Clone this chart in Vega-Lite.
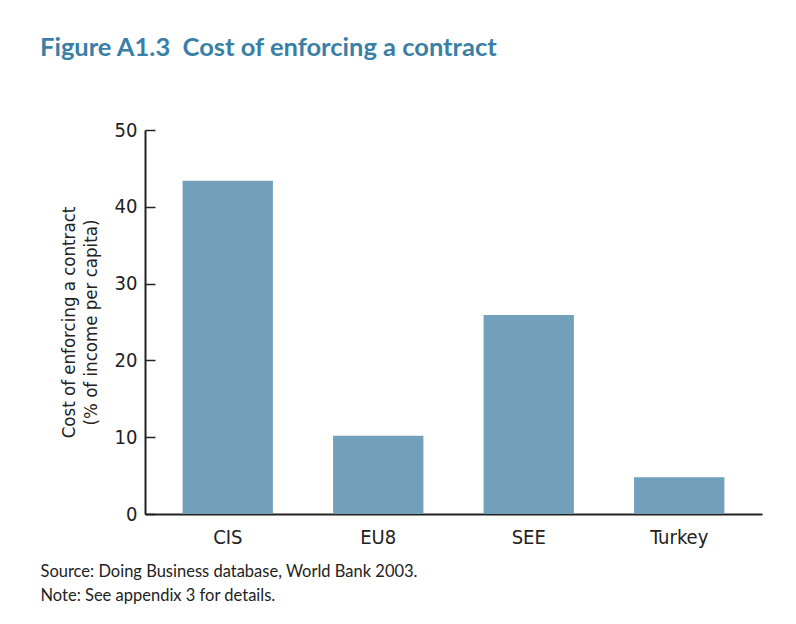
{
  "$schema": "https://vega.github.io/schema/vega-lite/v6.json",
  "autosize": {"type": "none"},
  "width": 617,
  "height": 384,
  "padding": {"left": 145, "top": 130, "right": 34, "bottom": 110},
  "background": "white",
  "title": {
    "text": "Figure A1.3\u00a0 Cost of enforcing a contract",
    "anchor": "start",
    "frame": "group",
    "dx": -105,
    "offset": 59,
    "font": "Lato",
    "fontSize": 25.5,
    "fontWeight": "bold",
    "color": "#3a7fa6"
  },
  "data": {
    "values": [
      {"region": "CIS", "cost": 43.4},
      {"region": "EU8", "cost": 10.2},
      {"region": "SEE", "cost": 25.9},
      {"region": "Turkey", "cost": 4.8}
    ]
  },
  "mark": {"type": "bar", "color": "#729fba"},
  "encoding": {
    "x": {
      "field": "region",
      "type": "nominal",
      "sort": null,
      "scale": {"paddingInner": 0.4, "paddingOuter": 0.25},
      "axis": {
        "labelAngle": 0,
        "ticks": false,
        "domainColor": "#222",
        "domainWidth": 2,
        "labelFont": "DejaVu Sans Condensed",
        "labelFontSize": 20,
        "labelColor": "#222",
        "labelPadding": 13,
        "title": ["Source: Doing Business database, World Bank 2003.", "Note: See appendix 3 for details."],
        "titleFont": "Lato",
        "titleFontSize": 16.5,
        "titleFontWeight": "normal",
        "titleColor": "#222",
        "titleAnchor": "start",
        "titleAlign": "left",
        "titleX": -105,
        "titleY": 49,
        "titleLineHeight": 24
      }
    },
    "y": {
      "field": "cost",
      "type": "quantitative",
      "scale": {"domain": [0, 50]},
      "axis": {
        "values": [0, 10, 20, 30, 40, 50],
        "grid": false,
        "tickSize": -10,
        "tickWidth": 1.5,
        "tickColor": "#222",
        "domainColor": "#222",
        "domainWidth": 2,
        "labelFont": "DejaVu Sans Condensed",
        "labelFontSize": 20,
        "labelColor": "#222",
        "labelPadding": 18,
        "title": ["Cost of enforcing a contract", "(% of income per capita)"],
        "titleFont": "DejaVu Sans Condensed",
        "titleFontSize": 18.5,
        "titleFontWeight": "normal",
        "titleColor": "#222",
        "titleLineHeight": 22,
        "titlePadding": 14
      }
    }
  },
  "config": {"view": {"stroke": null}}
}
